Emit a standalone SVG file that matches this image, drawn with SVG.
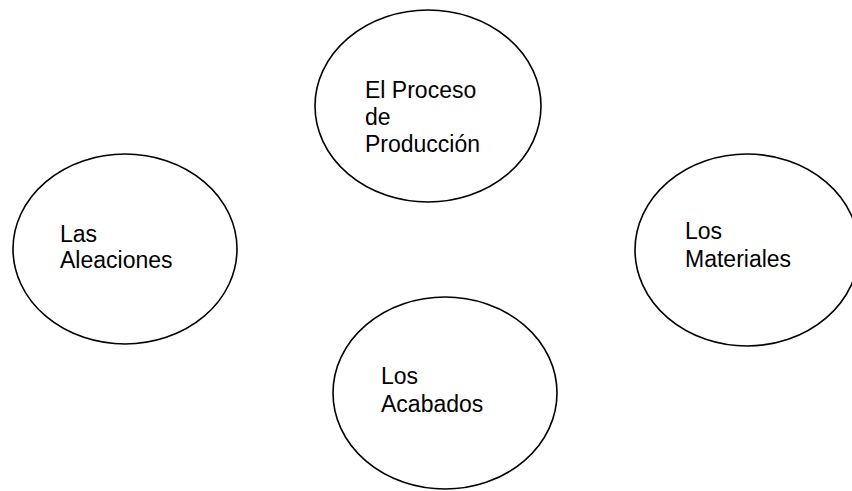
<svg xmlns="http://www.w3.org/2000/svg" width="852" height="491" viewBox="0 0 852 491">
<style>
.n{fill:#fff;stroke:#000;stroke-width:1.6}
.t{font-family:"Liberation Sans",Arial,sans-serif;font-size:23px;fill:#000}
</style>
<rect width="852" height="491" fill="#fff"/>
<g id="connectors"></g>
<g id="proceso">
<ellipse class="n" cx="428" cy="106" rx="113" ry="96"/>
<text class="t" x="365" y="98">El Proceso</text>
<text class="t" x="365" y="125">de</text>
<text class="t" x="365" y="152">Producción</text>
</g>
<g id="aleaciones">
<ellipse class="n" cx="125" cy="249" rx="112" ry="95"/>
<text class="t" x="60" y="242">Las</text>
<text class="t" x="60" y="268">Aleaciones</text>
</g>
<g id="materiales">
<ellipse class="n" cx="747" cy="250" rx="112" ry="96"/>
<text class="t" x="685" y="239">Los</text>
<text class="t" x="685" y="267">Materiales</text>
</g>
<g id="acabados">
<ellipse class="n" cx="445" cy="393" rx="112" ry="96"/>
<text class="t" x="381" y="384">Los</text>
<text class="t" x="381" y="412">Acabados</text>
</g>
</svg>
